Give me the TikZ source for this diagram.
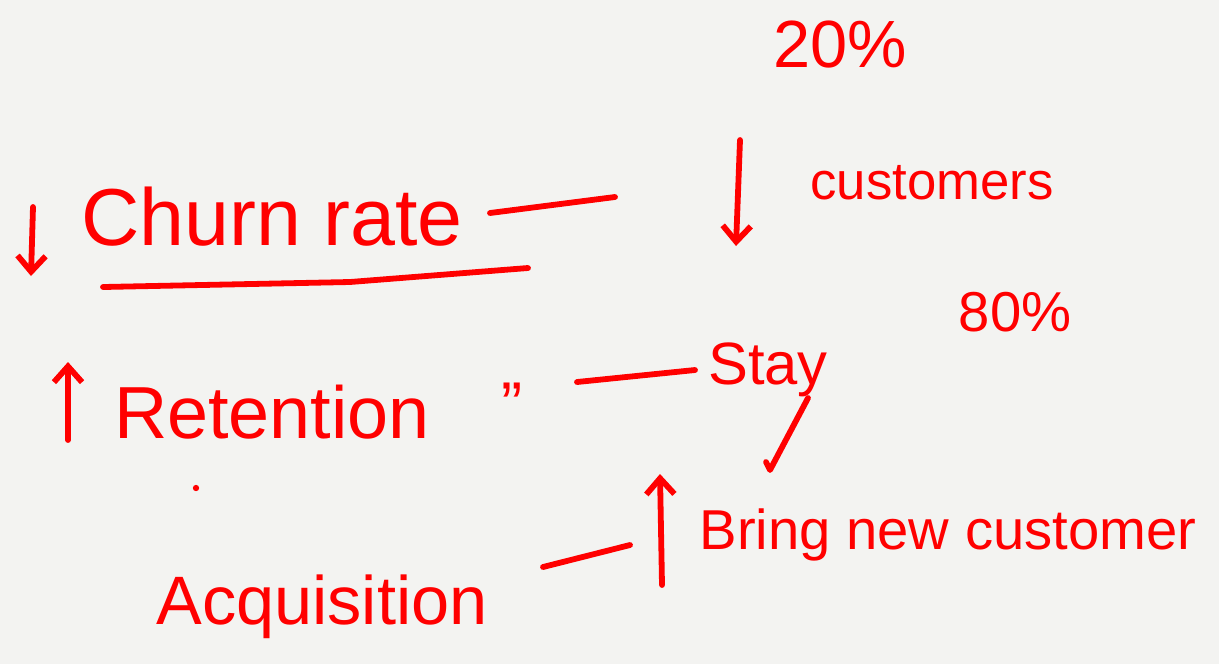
\documentclass[tikz,border=0pt]{standalone}
\usepackage{fontspec}
\setmainfont{Liberation Sans}
\usetikzlibrary{arrows.meta}
\definecolor{bg}{RGB}{243,243,241}
\definecolor{ink}{RGB}{255,0,0}
\tikzset{
  hw/.style={text=ink, inner sep=0pt, anchor=center},
  pen/.style={draw=ink, line width=3.3pt, line cap=round, line join=round},
  arr/.style={pen, -{Straight Barb[length=9pt,width=16pt,line width=3.3pt]}}
}
\begin{document}
\begin{tikzpicture}[x=0.02cm,y=-0.02cm]
\fill[bg] (0,0) rectangle (1219,664);
\useasboundingbox (0,0) rectangle (1219,664);
% texts
\node[hw, font=\fontsize{38}{40}\selectfont] (p20) at (840,45) {20\%};
\node[hw, font=\fontsize{30}{32}\selectfont] (cust) at (932,183) {customers};
\node[hw, font=\fontsize{32}{34}\selectfont] (p80) at (1015,312) {80\%};
\node[hw, font=\fontsize{46}{48}\selectfont] (churn) at (272,217) {Churn rate};
\node[hw, font=\fontsize{42}{44}\selectfont] (ret) at (272,412) {Retention};
\node[hw, font=\fontsize{36}{38}\selectfont] (ditto) at (512,405) {”};
\node[hw, font=\fontsize{34}{36}\selectfont] (stay) at (768,370) {Stay};
\node[hw, font=\fontsize{39}{41}\selectfont] (acq) at (322,607) {Acquisition};
\node[hw, font=\fontsize{32}{34}\selectfont] (bring) at (948,535) {Bring new customer};
% coordinates
\coordinate (a1s) at (740,140); \coordinate (a1e) at (736,246);
\coordinate (a2s) at (33,207);  \coordinate (a2e) at (31,276);
\coordinate (a3s) at (68,440);  \coordinate (a3e) at (68,362);
\coordinate (a4s) at (662,585); \coordinate (a4e) at (660,474);
\coordinate (l1s) at (490,213); \coordinate (l1e) at (615,197);
\coordinate (u1s) at (103,287); \coordinate (u1e) at (528,268);
\coordinate (l2s) at (577,382); \coordinate (l2e) at (695,370);
\coordinate (l3s) at (543,567); \coordinate (l3e) at (630,545);
\coordinate (ys) at (808,398);  \coordinate (ye) at (770,470);
% arrows
\draw[arr] (a1s) -- (a1e);
\draw[arr] (a2s) -- (a2e);
\draw[arr] (a3s) -- (a3e);
\draw[arr] (a4s) -- (a4e);
% lines
\draw[pen] (l1s) -- (l1e);
\draw[pen] (u1s) -- (350,282) -- (u1e);
\draw[pen] (l2s) -- (l2e);
\draw[pen] (l3s) -- (l3e);
\draw[pen] (ys) -- (ye) -- (766,462);
\fill[ink] (196,488) circle (1.8pt);
\end{tikzpicture}
\end{document}
